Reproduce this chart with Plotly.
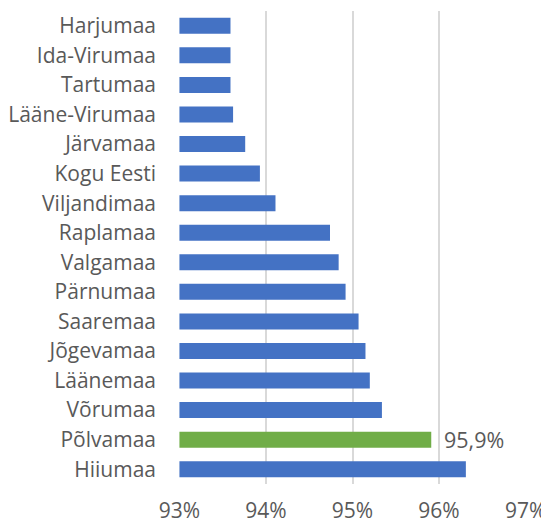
import plotly.graph_objects as go

categories = ["Harjumaa", "Ida-Virumaa", "Tartumaa", "Lääne-Virumaa", "Järvamaa",
              "Kogu Eesti", "Viljandimaa", "Raplamaa", "Valgamaa", "Pärnumaa",
              "Saaremaa", "Jõgevamaa", "Läänemaa", "Võrumaa", "Põlvamaa", "Hiiumaa"]
values = [93.59, 93.59, 93.59, 93.62, 93.76, 93.93, 94.11, 94.74, 94.84, 94.92,
          95.07, 95.15, 95.20, 95.34, 95.91, 96.31]
highlight = "Põlvamaa"
tick_vals = [93, 94, 95, 96, 97]
tick_text = ["93%", "94%", "95%", "96%", "97%"]

BLUE = "#4472C4"
GREEN = "#70AD47"
colors = [GREEN if c == highlight else BLUE for c in categories]
base = 93

fig = go.Figure()
fig.add_trace(go.Bar(
    y=categories,
    x=[v - base for v in values],
    base=base,
    orientation="h",
    marker=dict(color=colors, line=dict(width=0)),
    hoverinfo="skip",
))

hi = categories.index(highlight)
fig.add_annotation(
    x=values[hi], y=categories[hi], xref="x", yref="y",
    text=f"{values[hi]:.1f}%".replace(".", ","),
    showarrow=False, xanchor="left", xshift=11,
    font=dict(family="Open Sans", size=21.5, color="#595959"),
)

# page body has an 8px default margin; figure sized to fill the rest
fig.update_layout(
    width=541, height=514,
    margin=dict(l=171, r=23, t=3, b=38),
    paper_bgcolor="white", plot_bgcolor="white",
    showlegend=False,
    bargap=0.46,
    font=dict(family="Open Sans", size=21, color="#595959"),
)
fig.update_xaxes(
    range=[92.995, 97.005],
    tickvals=tick_vals, ticktext=tick_text,
    showgrid=True, gridcolor="#D9D9D9", gridwidth=1.5,
    zeroline=False, showline=False, ticks="",
    ticklabelstandoff=12, automargin=False,
    tickfont=dict(family="Open Sans", size=21, color="#595959"),
)
fig.update_yaxes(
    type="category",
    categoryorder="array", categoryarray=categories,
    range=[len(categories) - 0.5, -0.5],
    showgrid=False, zeroline=False, showline=False, ticks="",
    ticklabelstandoff=22, automargin=False,
    tickfont=dict(family="Open Sans", size=21, color="#595959"),
)

fig.write_html("out.html")
